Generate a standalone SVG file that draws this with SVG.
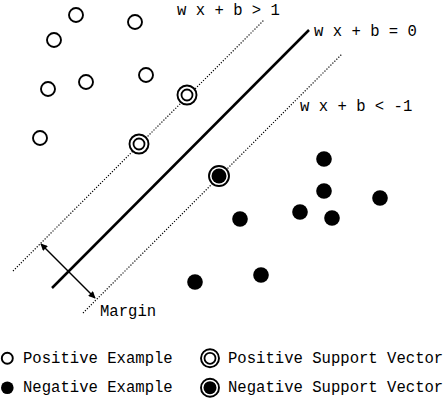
<svg xmlns="http://www.w3.org/2000/svg" width="446" height="403" viewBox="0 0 446 403">
<defs>
<style>
.t{font-family:"Liberation Mono","Courier New",monospace;font-size:15.6px;fill:#000}
.pos{fill:#fff;stroke:#000;stroke-width:1.9}
.ring{fill:none;stroke:#000;stroke-width:1.8}
.neg{fill:#000;stroke:none}
.dot{stroke:#000;stroke-width:1.2;stroke-dasharray:1.2 1.6;fill:none}
</style>
<marker id="ah" viewBox="0 0 10 10" refX="9" refY="5" markerWidth="8" markerHeight="7" markerUnits="userSpaceOnUse" orient="auto-start-reverse">
<path d="M0,0 L10,5 L0,10 z" fill="#000"/>
</marker>
</defs>
<rect width="446" height="403" fill="#fff"/>
<g id="connectors">
<line x1="52" y1="288" x2="309" y2="30" stroke="#000" stroke-width="2.5"/>
<line class="dot" x1="13" y1="271" x2="264" y2="20"/>
<line class="dot" x1="83" y1="313" x2="342" y2="54"/>
<line x1="41" y1="244" x2="95" y2="298" stroke="#000" stroke-width="1.5" marker-start="url(#ah)" marker-end="url(#ah)"/>
</g>
<g id="labels">
<text class="t" x="177" y="15">w x + b &gt; 1</text>
<text class="t" x="314" y="36">w x + b = 0</text>
<text class="t" x="300" y="111">w x + b &lt; -1</text>
<text class="t" x="100" y="316">Margin</text>
</g>
<g id="positives">
<circle class="pos" cx="76" cy="15" r="7"/>
<circle class="pos" cx="135" cy="22" r="7"/>
<circle class="pos" cx="54" cy="40" r="7"/>
<circle class="pos" cx="48" cy="89" r="7"/>
<circle class="pos" cx="86" cy="82" r="7"/>
<circle class="pos" cx="146" cy="75" r="7"/>
<circle class="pos" cx="40" cy="138" r="7"/>
</g>
<g id="positive-sv">
<circle class="pos" cx="187" cy="95" r="9.5"/>
<circle class="ring" cx="187" cy="95" r="5.5"/>
<circle class="pos" cx="139" cy="144" r="9.5"/>
<circle class="ring" cx="139" cy="144" r="5.5"/>
</g>
<g id="negative-sv">
<circle class="pos" cx="219" cy="176" r="10"/>
<circle class="neg" cx="219" cy="176" r="7.5"/>
</g>
<g id="negatives">
<circle class="neg" cx="324" cy="159" r="7.8"/>
<circle class="neg" cx="324" cy="191" r="7.8"/>
<circle class="neg" cx="300" cy="212" r="7.8"/>
<circle class="neg" cx="332" cy="218" r="7.8"/>
<circle class="neg" cx="380" cy="198" r="7.8"/>
<circle class="neg" cx="240" cy="219" r="7.8"/>
<circle class="neg" cx="261" cy="275" r="7.8"/>
<circle class="neg" cx="195" cy="282" r="7.8"/>
</g>
<g id="legend">
<circle class="pos" cx="7.3" cy="358.3" r="5.5"/>
<text class="t" x="23" y="362.5">Positive Example</text>
<circle class="neg" cx="7.3" cy="387.7" r="6.3"/>
<text class="t" x="23" y="392">Negative Example</text>
<circle class="pos" cx="210" cy="358.3" r="9"/>
<circle class="ring" cx="210" cy="358.3" r="5.5"/>
<text class="t" x="228" y="362.5">Positive Support Vector</text>
<circle class="pos" cx="210" cy="387.7" r="9"/>
<circle class="neg" cx="210" cy="387.7" r="6.5"/>
<text class="t" x="228" y="392">Negative Support Vector</text>
</g>
</svg>
